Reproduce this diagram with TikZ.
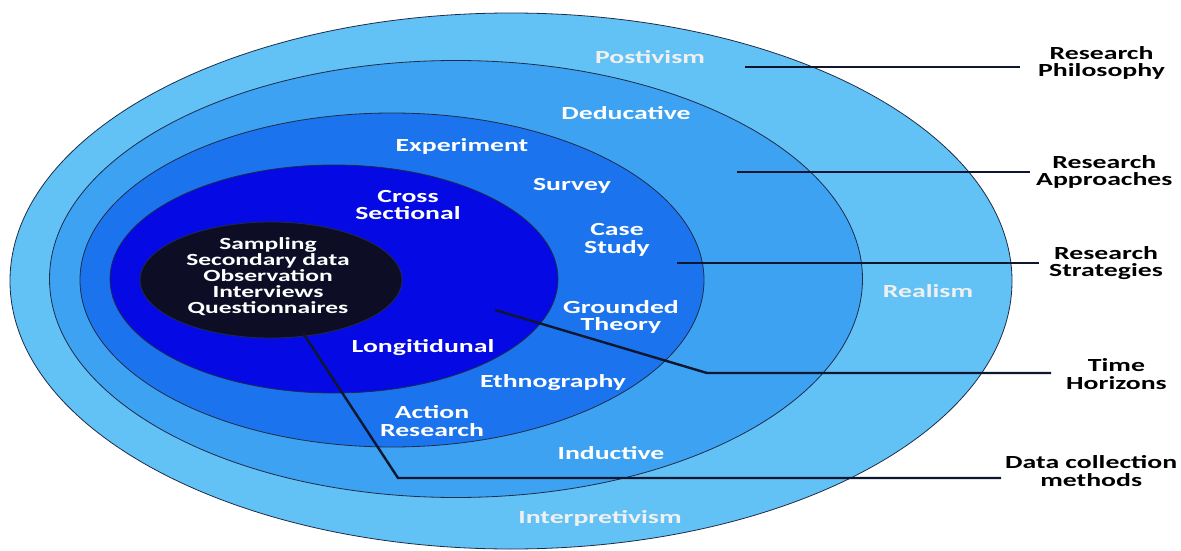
\documentclass[tikz,border=0pt]{standalone}
\usepackage{fontspec}
\newfontfamily\ringfont[FakeStretch=1.5]{Carlito}
\usetikzlibrary{shapes.geometric}

\definecolor{philoblue}{HTML}{62C2F6}
\definecolor{apprblue}{HTML}{3CA2F1}
\definecolor{stratblue}{HTML}{1B74EE}
\definecolor{timeblue}{HTML}{0509E4}
\definecolor{methodnavy}{HTML}{0D0D26}
\definecolor{ringline}{HTML}{1E2C48}
\definecolor{linkcol}{HTML}{0E1630}

\begin{document}
\begin{tikzpicture}[
            x = 1pt, y = -1pt, % one unit per pixel, y going down
            ring/.style = {ellipse, draw = ringline, line width = 0.8pt, inner sep = 0pt},
            intext/.style = {font = \ringfont\bfseries\fontsize{18.5}{17.5}\selectfont,
                             text = white, align = center, inner sep = 0pt},
            paletext/.style = {intext, text = white!88!gray},
            coretext/.style = {intext, font = \ringfont\bfseries\fontsize{17}{16}\selectfont},
            outtext/.style = {intext, text = black, anchor = west},
            link/.style = {line width = 2.4pt, draw = linkcol}
        ]

    \fill[white] (0,0) rectangle (1181,551);
    \useasboundingbox (0,0) rectangle (1181,551);

    % the onion, outside in
    \node[ring, fill = philoblue, minimum width = 1002pt, minimum height = 536pt] (philo) at (511,281) {};
    \node[ring, fill = apprblue, minimum width = 813pt, minimum height = 437pt] (appr) at (456,279) {};
    \node[ring, fill = stratblue, minimum width = 624pt, minimum height = 334pt] (strat) at (392,280) {};
    \node[ring, fill = timeblue, minimum width = 448pt, minimum height = 228pt] (horiz) at (334,279) {};
    \node[ring, fill = methodnavy, minimum width = 262pt, minimum height = 116pt] (methods) at (271,280) {};

    % layer texts
    \node[paletext] (posit) at (650,57) {Postivism};
    \node[paletext] (realism) at (928,291) {Realism};
    \node[paletext] (interp) at (600,518) {Interpretivism};
    \node[intext] (deduct) at (626,113) {Deducative};
    \node[intext] (induct) at (611,453) {Inductive};
    \node[intext] (exper) at (462,146) {Experiment};
    \node[intext] (survey) at (572,186) {Survey};
    \node[intext] (casest) at (617,240) {Case\\Study};
    \node[intext] (ground) at (621,317) {Grounded\\Theory};
    \node[intext] (ethno) at (553,383) {Ethnography};
    \node[intext] (action) at (432,421) {Action\\Research};
    \node[intext] (cross) at (408,205) {Cross\\Sectional};
    \node[intext] (longi) at (423,348) {Longitidunal};
    \node[coretext] (tools) at (268,277) {Sampling\\Secondary data\\Observation\\Interviews\\Questionnaires};

    % layer names on the right
    \node[outtext] (philoTxt) at (1038,63) {Research\\Philosophy};
    \node[outtext] (apprTxt) at (1036,172) {Research\\Approaches};
    \node[outtext] (stratTxt) at (1049,263) {Research\\Strategies};
    \node[outtext] (timeTxt) at (1066,374) {Time\\Horizons};
    \node[outtext] (dataTxt) at (1005,471) {Data collection\\methods};

    \coordinate (philoIn) at (745,67);
    \coordinate (apprIn) at (737,172);
    \coordinate (stratIn) at (677,263);
    \coordinate (timeIn) at (495,310);
    \coordinate (timeBend) at (707,373);
    \coordinate (dataIn) at (303,333);
    \coordinate (dataBend) at (398,478);

    \draw[link, shorten > = 18pt] (philoIn) -- (philoIn -| philoTxt.west);
    \draw[link, shorten > = 6pt] (apprIn) -- (apprIn -| apprTxt.west);
    \draw[link, shorten > = 10pt] (stratIn) -- (stratIn -| stratTxt.west);
    \draw[link, shorten > = 15pt] (timeIn) -- (timeBend) -- (timeBend -| timeTxt.west);
    \draw[link, shorten > = 4pt] (dataIn) -- (dataBend) -- (dataBend -| dataTxt.west);

\end{tikzpicture}
\end{document}
